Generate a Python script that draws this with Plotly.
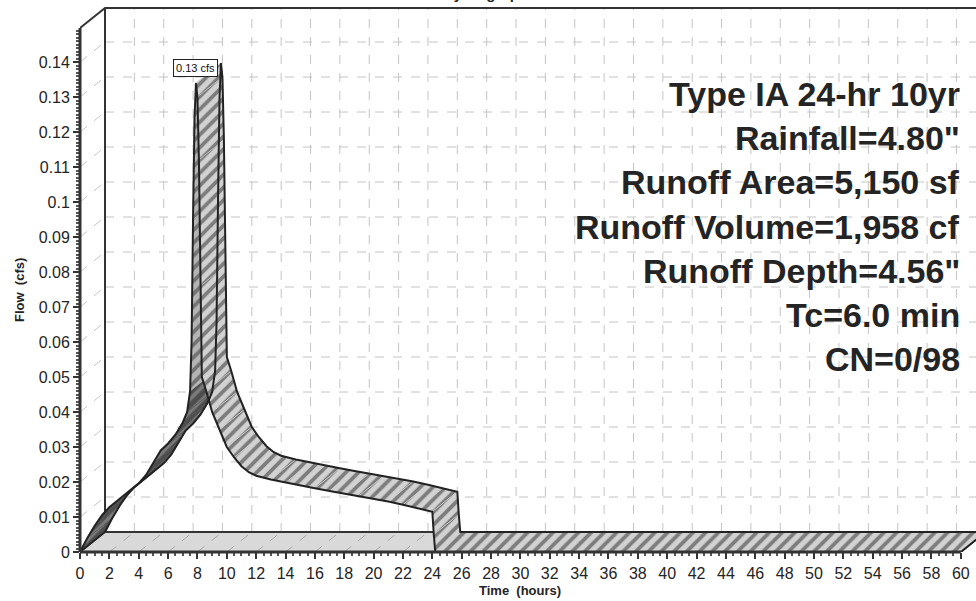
import plotly.graph_objects as go

# ---------------- data ----------------
time_hr = [0.0, 0.5, 1.0, 1.5, 2.0, 2.5, 3.0, 3.5, 4.0, 4.5, 5.0, 5.5, 6.0, 6.5,
           7.0, 7.3, 7.5, 7.6, 7.7, 7.8, 7.9, 8.0, 8.1, 8.2, 8.3, 8.6, 9.0, 9.5,
           10.0, 10.5, 11.0, 11.5, 12.0, 13.0, 14.0, 15.0, 16.0, 17.0, 18.0,
           19.0, 20.0, 21.0, 22.0, 23.0, 24.0, 24.1, 24.2, 60.0]
flow_cfs = [0.0, 0.004, 0.0075, 0.0105, 0.0128, 0.0145, 0.016, 0.0178, 0.0196,
            0.022, 0.0255, 0.029, 0.031, 0.0335, 0.037, 0.040, 0.046, 0.060,
            0.095, 0.124, 0.134, 0.130, 0.112, 0.076, 0.050, 0.046, 0.040, 0.035,
            0.030, 0.027, 0.0245, 0.0228, 0.0218, 0.0207, 0.0198, 0.0190, 0.0182,
            0.0174, 0.0167, 0.0160, 0.0152, 0.0144, 0.0135, 0.0125, 0.0115,
            0.005, 0.0, 0.0]
y_tick_vals = [0, 0.01, 0.02, 0.03, 0.04, 0.05, 0.06, 0.07, 0.08, 0.09, 0.10,
               0.11, 0.12, 0.13, 0.14]
x_tick_vals = list(range(0, 61, 2))
info_lines = ["Type IA 24-hr 10yr", "Rainfall=4.80\"", "Runoff Area=5,150 sf",
              "Runoff Volume=1,958 cf", "Runoff Depth=4.56\"", "Tc=6.0 min",
              "CN=0/98"]
peak_label = "0.13 cfs"
title_text = "Hydrograph"
x_title = "Time\u00a0\u00a0(hours)"
y_title = "Flow\u00a0\u00a0(cfs)"

# ---------------- geometry ----------------
W, H = 976, 601
L, B = 80, 49
PX_PER_HR = 14.68
PX_PER_CFS = 3500.0
XMAX = (W - L) / PX_PER_HR
YMAX = (H - B) / PX_PER_CFS
DX = 25 / PX_PER_HR          # depth offset (3D look)
DY = 20 / PX_PER_CFS
T_END = 60
V_TOP_BACK = (H - B - 8) / PX_PER_CFS
V_TOP_FRONT = V_TOP_BACK - DY
FONT = "Liberation Sans, Arial, sans-serif"
INK = "#242424"

fig = go.Figure()


def seg_trace(xs, ys, color, width, dash=None):
    fig.add_trace(go.Scatter(x=xs, y=ys, mode="lines",
                             line=dict(color=color, width=width, dash=dash),
                             hoverinfo="skip", showlegend=False))


# floor
fig.add_trace(go.Scatter(x=[0, T_END, T_END + DX, DX, 0], y=[0, 0, DY, DY, 0],
                         mode="lines", fill="toself", fillcolor="#d9d9d9",
                         line=dict(width=0), hoverinfo="skip", showlegend=False))
# floor diagonals
xs, ys = [], []
for t in x_tick_vals:
    xs += [t, t + DX, None]
    ys += [0, DY, None]
seg_trace(xs, ys, "#a8a8a8", 1, "dash")
# left wall diagonals
xs, ys = [], []
for v in y_tick_vals[1:]:
    xs += [0, DX, None]
    ys += [v, v + DY, None]
seg_trace(xs, ys, "#c8c8c8", 1, "dash")
# back wall grid
xs, ys = [], []
for t in x_tick_vals[1:]:
    xs += [t + DX, t + DX, None]
    ys += [DY, V_TOP_BACK, None]
for v in y_tick_vals[1:]:
    xs += [DX, XMAX + 2, None]
    ys += [v + DY, v + DY, None]
seg_trace(xs, ys, "#c4c4c4", 1, "dash")
# frame
seg_trace([DX, DX], [DY, V_TOP_BACK], "#333333", 2)
seg_trace([0, DX, XMAX + 2], [V_TOP_FRONT, V_TOP_BACK, V_TOP_BACK], "#333333", 2)
seg_trace([DX, T_END + DX], [DY, DY], "#333333", 2)
seg_trace([T_END, T_END + DX], [0, DY], "#333333", 1.5)

# hydrograph ribbon (quads between front and back copies)
for i in range(len(time_hr) - 1):
    t0, t1 = time_hr[i], time_hr[i + 1]
    v0, v1 = flow_cfs[i], flow_cfs[i + 1]
    slope_px = (v1 - v0) * PX_PER_CFS / ((t1 - t0) * PX_PER_HR)
    if slope_px > 0.85 and max(v0, v1) < 0.05:
        bg, fg = "#4d4d4d", "#a8a8a8"
    elif slope_px > 0.85:
        bg, fg = "#b5b5b5", "#303030"
    else:
        bg, fg = "#d2d2d2", "#262626"
    fig.add_trace(go.Scatter(
        x=[t0, t1, t1 + DX, t0 + DX, t0],
        y=[v0, v1, v1 + DY, v0 + DY, v0],
        mode="lines", fill="toself", fillcolor=bg,
        fillpattern=dict(shape="/", size=9, solidity=0.42, fgcolor=fg, bgcolor=bg),
        line=dict(width=0.6, color=bg), hoverinfo="skip", showlegend=False))

# ribbon outlines
seg_trace(time_hr, flow_cfs, "#222222", 2)
seg_trace([t + DX for t in time_hr], [v + DY for v in flow_cfs], "#222222", 2)
seg_trace([time_hr[0], time_hr[0] + DX], [flow_cfs[0], flow_cfs[0] + DY], "#222222", 2)
seg_trace([time_hr[-1], time_hr[-1] + DX], [flow_cfs[-1], flow_cfs[-1] + DY], "#222222", 2)

# peak label
ipk = max(range(len(flow_cfs)), key=lambda k: flow_cfs[k])
fig.add_annotation(x=time_hr[ipk], y=flow_cfs[ipk] + 0.75 * DY, xref="x", yref="y",
                   text=peak_label, showarrow=False, bgcolor="white",
                   bordercolor="#222222", borderwidth=1, borderpad=2,
                   font=dict(family=FONT, size=11, color="#111111"))

# info text block
for k, line in enumerate(info_lines):
    fig.add_annotation(x=(962 - L) / (W - L), y=1 - (94 + 44.2 * k) / (H - B),
                       xref="paper", yref="paper", xanchor="right", yanchor="middle",
                       text="<b>" + line + "</b>", showarrow=False,
                       font=dict(family=FONT, size=34, color=INK))

# axis titles
fig.add_annotation(x=(520 - L) / (W - L), y=-(590 - (H - B)) / (H - B),
                   xref="paper", yref="paper", xanchor="center", yanchor="middle",
                   text="<b>" + x_title + "</b>",
                   showarrow=False, font=dict(family=FONT, size=13, color=INK))
fig.add_annotation(x=-(80 - 19) / (W - L), y=1 - 290 / (H - B),
                   xref="paper", yref="paper", xanchor="center", yanchor="middle",
                   text="<b>" + y_title + "</b>",
                   textangle=-90, showarrow=False,
                   font=dict(family=FONT, size=13, color=INK))
# title (cut off at the top of the picture, as in the reference)
fig.add_annotation(x=(485 - L) / (W - L), y=1, xref="paper", yref="paper",
                   xanchor="center", yanchor="bottom", yshift=-4,
                   text="<b>" + title_text + "</b>",
                   showarrow=False, font=dict(family=FONT, size=15, color=INK))

# front axis lines
fig.add_shape(type="line", xref="paper", yref="paper", x0=0, x1=0, y0=0,
              y1=V_TOP_FRONT / YMAX, line=dict(color="#333333", width=3))
fig.add_shape(type="line", xref="paper", yref="paper", x0=0, x1=T_END / XMAX,
              y0=0, y1=0, line=dict(color="#333333", width=3))

fig.update_layout(
    width=W, height=H, margin=dict(l=L, r=0, t=0, b=B),
    paper_bgcolor="white", plot_bgcolor="white", showlegend=False,
    xaxis=dict(range=[0, XMAX], showgrid=False, zeroline=False, showline=False,
               tickmode="array", tickvals=x_tick_vals,
               ticktext=[str(t) for t in x_tick_vals], ticks="outside",
               ticklen=6, tickwidth=1.5, tickcolor="#333333",
               ticklabelstandoff=1,
               tickfont=dict(family=FONT, size=16, color=INK),
               minor=dict(tickmode="array",
                          tickvals=[k * 0.5 for k in range(121)],
                          ticks="outside", ticklen=3, tickcolor="#555555")),
    yaxis=dict(range=[0, YMAX], showgrid=False, zeroline=False, showline=False,
               tickmode="array", tickvals=y_tick_vals,
               ticktext=[f"{v:g}" for v in y_tick_vals], ticks="outside",
               ticklen=6, tickwidth=1.5, tickcolor="#333333",
               tickfont=dict(family=FONT, size=16, color=INK),
               minor=dict(tickmode="array",
                          tickvals=[k * 0.001 for k in range(150)],
                          ticks="outside", ticklen=3, tickcolor="#555555")),
)

fig.write_html("out.html", config={"displayModeBar": False},
               post_script="document.body.style.margin='0';")
